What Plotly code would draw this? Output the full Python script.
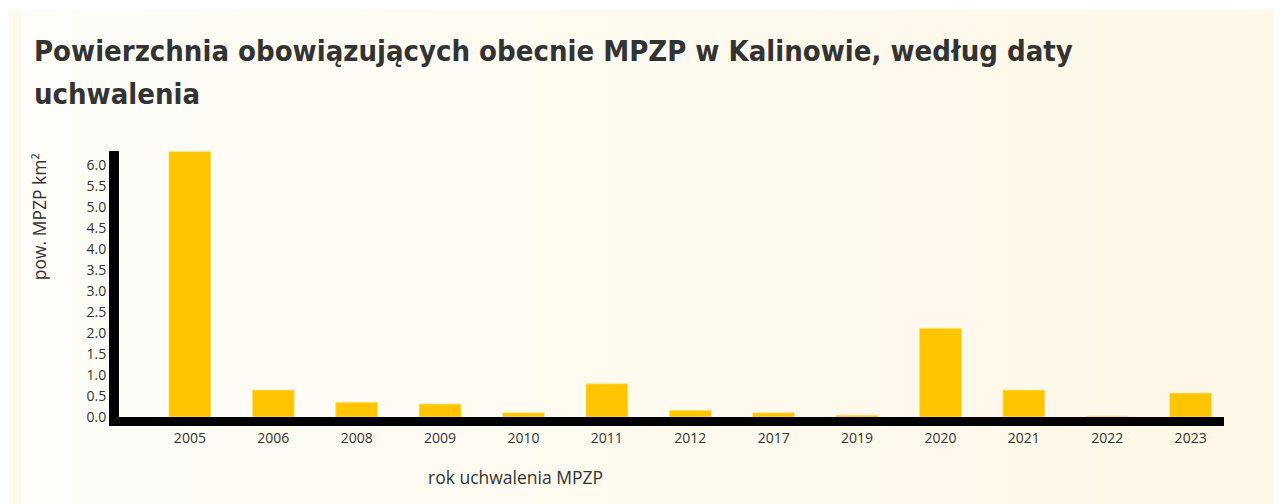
import base64
import plotly.graph_objects as go

# ---- data ----
years = ["2005", "2006", "2008", "2009", "2010", "2011", "2012",
         "2017", "2019", "2020", "2021", "2022", "2023"]
area_km2 = [6.32, 0.64, 0.35, 0.31, 0.10, 0.79, 0.16,
            0.10, 0.04, 2.11, 0.64, 0.02, 0.57]
y_ticks = [0.0, 0.5, 1.0, 1.5, 2.0, 2.5, 3.0, 3.5, 4.0, 4.5, 5.0, 5.5, 6.0]

title_line1 = "Powierzchnia obowiązujących obecnie MPZP w Kalinowie, według daty"
title_line2 = "uchwalenia"
y_title = "pow. MPZP km²"
x_title = "rok uchwalenia MPZP"

W, H = 1282, 504
OFF = 8  # page body margin
# plot area in screen pixels: left 119, right 1224, top 151.2, bottom 416.7
L = 119 - OFF
R = W - (1224 - OFF)
T = 151.2 - OFF
B = H - (416.7 - OFF)
PW, PH = W - L - R, H - T - B


def sx(p):  # screen x -> paper
    return (p - OFF - L) / PW


def sy(p):  # screen y -> paper
    return (H - B - (p - OFF)) / PH


TITLE_FONT = dict(family="DejaVu Sans Condensed, DejaVu Sans, sans-serif",
                  size=29, color="#333333", weight="bold")

svg = (
    '<svg xmlns="http://www.w3.org/2000/svg" width="1282" height="504" viewBox="0 0 1282 504">'
    '<defs><linearGradient id="g" x1="0" y1="0" x2="1" y2="0">'
    '<stop offset="0" stop-color="#FFFDF9"/><stop offset="1" stop-color="#FDF7E6"/>'
    '</linearGradient></defs>'
    '<rect x="0" y="0" width="1282" height="504" fill="url(#g)"/>'
    '<rect x="0" y="0" width="12" height="504" fill="#FEF9EA"/>'
    '</svg>'
)
src = "data:image/svg+xml;base64," + base64.b64encode(svg.encode()).decode()

fig = go.Figure()
fig.add_trace(go.Bar(
    x=years, y=area_km2,
    marker=dict(color="#FFC600", line=dict(color="rgba(255,228,140,0.9)", width=0.8)),
    hoverinfo="x+y",
))

fig.update_layout(
    width=W, height=H,
    margin=dict(l=L, r=R, t=T, b=B, pad=0),
    paper_bgcolor="#FFFFFF",
    plot_bgcolor="rgba(0,0,0,0)",
    bargap=0.497,
    showlegend=False,
    font=dict(family="Open Sans, Noto Sans, sans-serif", color="#333333", size=13),
    images=[dict(
        source=src, xref="paper", yref="paper",
        x=sx(9), y=sy(10), sizex=sx(W + OFF) - sx(9), sizey=sy(10) - sy(H + OFF),
        xanchor="left", yanchor="top", sizing="stretch", layer="below",
    )],
    xaxis=dict(
        type="category",
        range=[-0.85, 12.4],
        showline=True, linecolor="#000000", linewidth=9,
        showgrid=False, zeroline=False, ticks="",
        tickfont=dict(size=14, color="#333333"),
        fixedrange=True,
    ),
    yaxis=dict(
        range=[0, 6.33],
        tickmode="array", tickvals=y_ticks,
        ticktext=[f"{v:.1f}" for v in y_ticks],
        showline=True, linecolor="#000000", linewidth=10,
        showgrid=False, zeroline=False, ticks="",
        tickfont=dict(size=14, color="#333333"),
        fixedrange=True,
    ),
    annotations=[
        dict(text=title_line1, xref="paper", yref="paper",
             x=sx(32), y=sy(70), xanchor="left", yanchor="bottom",
             showarrow=False, font=TITLE_FONT),
        dict(text=title_line2, xref="paper", yref="paper",
             x=sx(32), y=sy(113), xanchor="left", yanchor="bottom",
             showarrow=False, font=TITLE_FONT),
        dict(text=y_title, xref="paper", yref="paper",
             x=sx(39), y=sy(151), xanchor="center", yanchor="top",
             textangle=-90, showarrow=False,
             font=dict(size=17.5, color="#333333")),
        dict(text=x_title, xref="paper", yref="paper",
             x=sx(515), y=sy(477), xanchor="center", yanchor="middle",
             showarrow=False, font=dict(size=17.5, color="#333333")),
    ],
)

fig.write_html("out.html")
